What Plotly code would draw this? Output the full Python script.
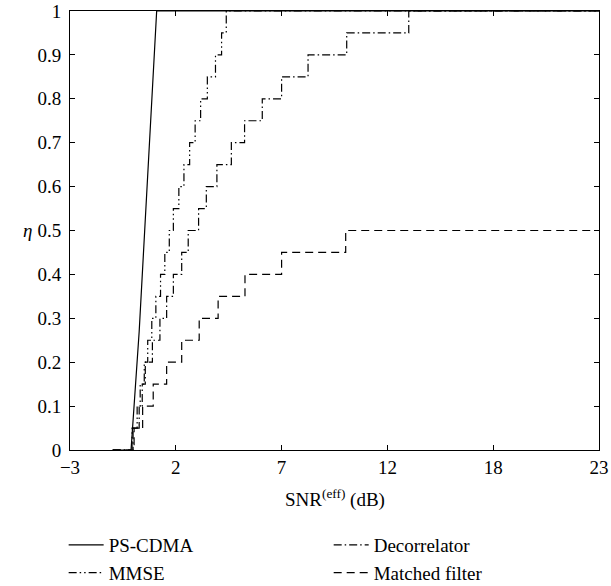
import plotly.graph_objects as go

# x-axis ticks (labels as printed, evenly spaced on the axis)
x_tick_vals = [-3, 2.2, 7.4, 12.6, 17.8, 23]
x_tick_text = ["\u22123", "2", "7", "12", "18", "23"]

# y-axis ticks
y_tick_vals = [0, 0.1, 0.2, 0.3, 0.4, 0.5, 0.6, 0.7, 0.8, 0.9, 1.0]
y_tick_text = ["0", "0.1", "0.2", "0.3", "0.4", "0.5", "0.6", "0.7", "0.8", "0.9", "1"]

# PS-CDMA (continuous curve)
ps_x = [-0.9, 0.0, 0.4, 0.8, 0.93, 1.04, 1.14, 1.26, 23]
ps_y = [0, 0, 0.27, 0.6, 0.7, 0.8, 0.9, 1.0, 1.0]

# MMSE (step curve: SNR where each level is reached)
mmse_x = [-0.9, 0.05, 0.3, 0.45, 0.65, 0.82, 1.02, 1.22, 1.45, 1.66, 1.88,
          2.08, 2.35, 2.6, 2.88, 3.15, 3.42, 3.75, 4.15, 4.45, 4.68, 23]
mmse_y = [0, 0.05, 0.1, 0.15, 0.2, 0.25, 0.3, 0.35, 0.4, 0.45, 0.5,
          0.55, 0.6, 0.65, 0.7, 0.75, 0.8, 0.85, 0.9, 0.95, 1.0, 1.0]

# Decorrelator
dec_x = [-0.9, 0.1, 0.4, 0.55, 0.7, 1.05, 1.42, 1.75, 2.08, 2.49, 2.81,
         3.32, 3.7, 4.22, 4.93, 5.58, 6.45, 7.4, 8.7, 10.6, 13.65, 23]
dec_y = [0, 0.05, 0.1, 0.15, 0.2, 0.25, 0.3, 0.35, 0.4, 0.45, 0.5,
         0.55, 0.6, 0.65, 0.7, 0.75, 0.8, 0.85, 0.9, 0.95, 1.0, 1.0]

# Matched filter
mf_x = [-0.9, 0.15, 0.57, 1.09, 1.75, 2.49, 3.35, 4.28, 5.6, 7.4, 10.55, 23]
mf_y = [0, 0.05, 0.1, 0.15, 0.2, 0.25, 0.3, 0.35, 0.4, 0.45, 0.5, 0.5]

FONT = "Liberation Serif"
FS = 19

fig = go.Figure()
fig.add_trace(go.Scatter(x=ps_x, y=ps_y, mode="lines", name="PS-CDMA",
                         legend="legend",
                         line=dict(color="black", width=1.2)))
fig.add_trace(go.Scatter(x=dec_x, y=dec_y, mode="lines", name="Decorrelator",
                         legend="legend2",
                         line=dict(color="black", width=1.2, shape="hv",
                                   dash="8px,3px,1.5px,3px")))
fig.add_trace(go.Scatter(x=mmse_x, y=mmse_y, mode="lines", name="MMSE",
                         legend="legend",
                         line=dict(color="black", width=1.2, shape="hv",
                                   dash="8px,3px,1.5px,3px,1.5px,3px")))
fig.add_trace(go.Scatter(x=mf_x, y=mf_y, mode="lines", name="Matched filter",
                         legend="legend2",
                         line=dict(color="black", width=1.2, shape="hv",
                                   dash="8px,5px")))

axis_common = dict(showgrid=False, zeroline=False, showline=True,
                   linecolor="black", linewidth=1, mirror="ticks",
                   ticks="inside", ticklen=5, tickcolor="black",
                   ticklabeloverflow="allow", automargin=False,
                   tickfont=dict(family=FONT, size=FS, color="black"))

fig.update_xaxes(range=[-3, 23], tickvals=x_tick_vals, ticktext=x_tick_text,
                 **axis_common)
fig.update_yaxes(range=[0, 1], tickvals=y_tick_vals, ticktext=y_tick_text,
                 ticklabelstandoff=4, **axis_common)

# axis titles
fig.add_annotation(text="SNR<sup>(eff)</sup> (dB)", xref="paper", yref="paper",
                   x=0.5, y=-0.111, yanchor="middle", showarrow=False,
                   font=dict(family=FONT, size=FS, color="black"))
fig.add_annotation(text="<i>\u03b7</i>", xref="paper", yref="paper",
                   x=-0.068, xanchor="right", y=0.5, showarrow=False,
                   font=dict(family=FONT, size=19, color="black"))

legend_common = dict(orientation="v", xanchor="left", yref="container",
                     y=0.1024, yanchor="top", itemwidth=35,
                     font=dict(family=FONT, size=FS, color="black"),
                     tracegroupgap=0, bgcolor="rgba(0,0,0,0)")

fig.update_layout(
    width=611, height=586,
    margin=dict(l=70, r=12, t=11, b=136),
    plot_bgcolor="white", paper_bgcolor="white",
    showlegend=True,
    legend=dict(x=-0.012, **legend_common),
    legend2=dict(x=0.489, **legend_common),
)

fig.write_html("out.html")
